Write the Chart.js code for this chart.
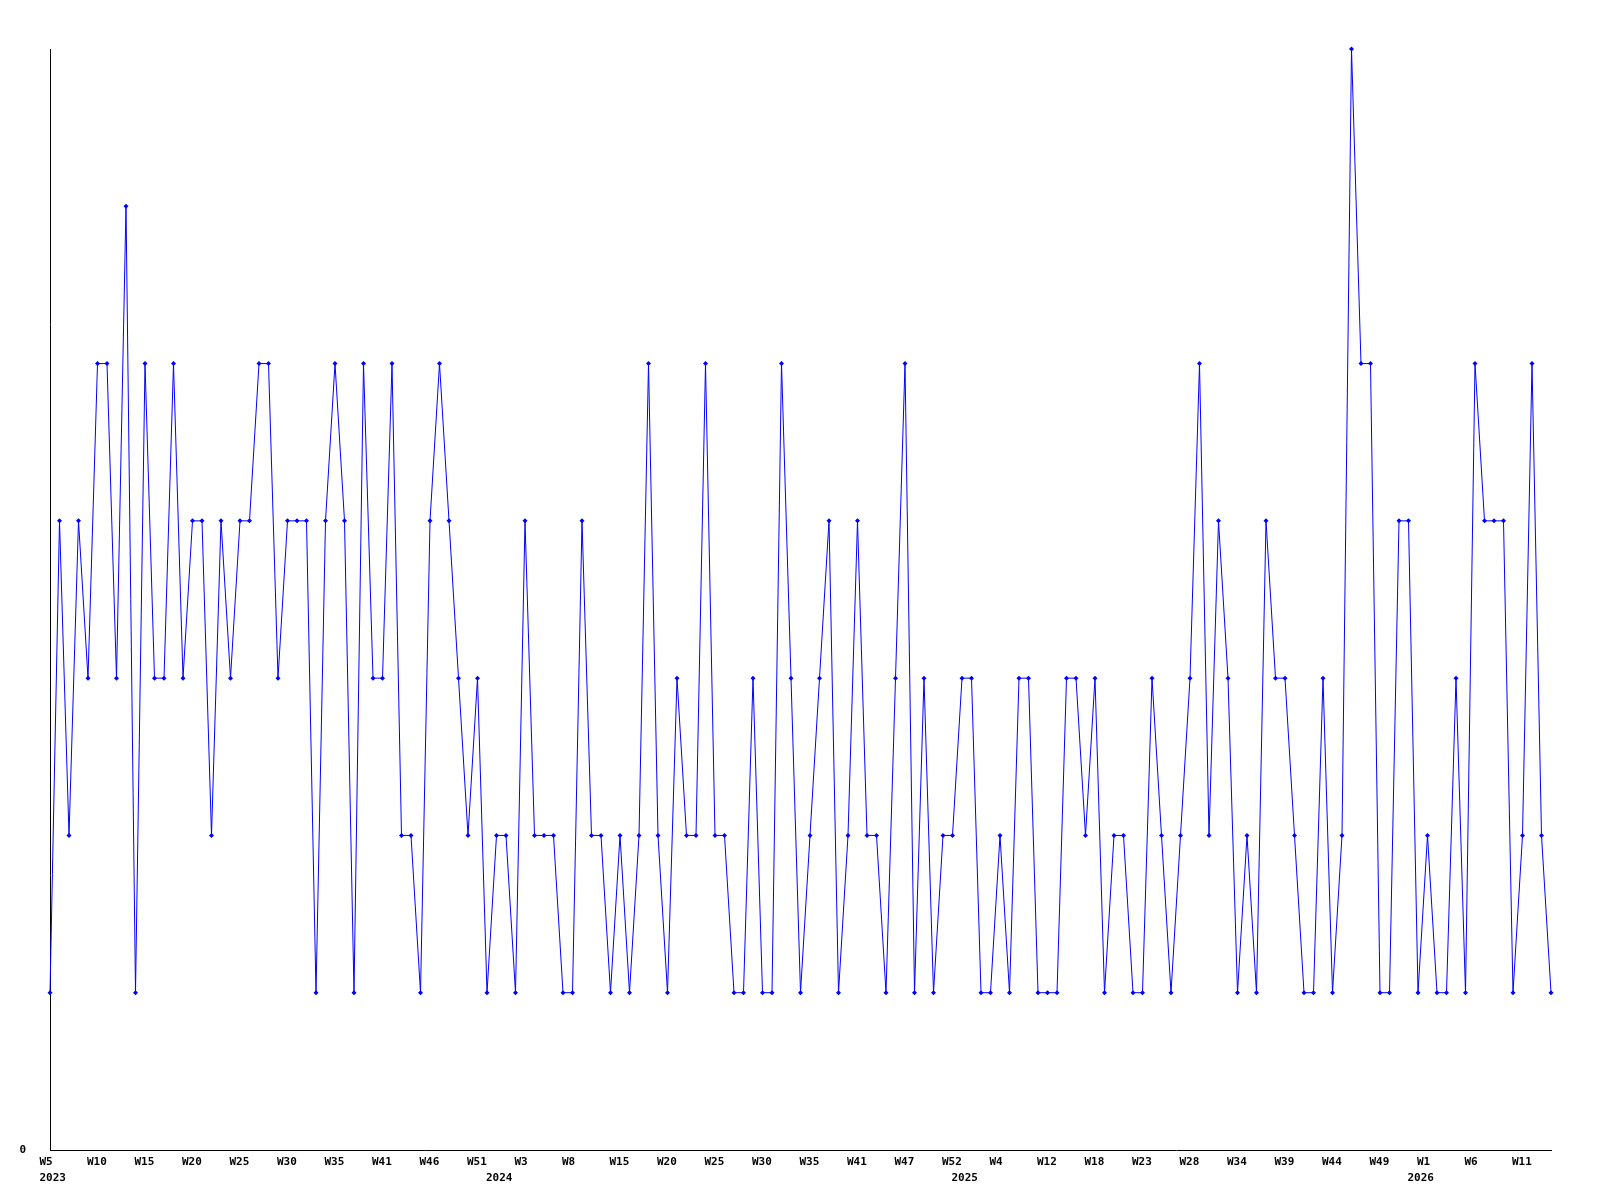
<!DOCTYPE html>
<html>
<head>
<meta charset="utf-8">
<script src="https://cdn.jsdelivr.net/npm/chart.js@4.4.1/dist/chart.umd.min.js"></script>
<style>
  html, body { margin: 0; padding: 0; background: #ffffff; }
  #wrap { width: 1600px; height: 1200px; }
</style>
</head>
<body>
<div id="wrap"><canvas id="c" width="1600" height="1200"></canvas></div>
<script>
// ---- data ----
const years = [
  2023,2023,2023,2023,2023,2023,2023,2023,2023,2023,2023,2023,2023,2023,2023,2023,2023,2023,2023,2023,
  2023,2023,2023,2023,2023,2023,2023,2023,2023,2023,2023,2023,2023,2023,2023,2023,2023,2023,2023,2023,
  2023,2023,2023,2023,2023,2023,2023,
  2024,2024,2024,2024,2024,2024,2024,2024,2024,2024,2024,2024,2024,2024,2024,2024,2024,2024,2024,2024,
  2024,2024,2024,2024,2024,2024,2024,2024,2024,2024,2024,2024,2024,2024,2024,2024,2024,2024,2024,2024,
  2024,2024,2024,2024,2024,2024,2024,2024,2024,
  2025,2025,2025,2025,2025,2025,2025,2025,2025,2025,2025,2025,2025,2025,2025,2025,2025,2025,2025,2025,
  2025,2025,2025,2025,2025,2025,2025,2025,2025,2025,2025,2025,2025,2025,2025,2025,2025,2025,2025,2025,
  2025,2025,2025,2025,2025,2025,2025,2025,
  2026,2026,2026,2026,2026,2026,2026,2026,2026,2026,2026,2026,2026,2026,2026
];
const weeks = [
  5,6,7,8,9,10,11,12,13,14,15,16,17,18,19,20,21,22,23,24,
  25,26,27,28,29,30,31,32,33,34,35,36,37,38,40,41,42,43,44,45,
  46,47,48,49,50,51,52,
  0,1,2,3,4,5,6,7,8,9,10,12,13,15,16,17,18,19,20,21,
  22,23,24,25,26,27,28,29,30,31,32,33,34,35,36,37,38,40,41,42,
  43,44,46,47,48,49,50,51,52,
  0,1,2,3,4,5,7,9,10,12,13,14,15,17,18,19,20,21,22,23,
  24,25,26,27,28,29,30,31,33,34,35,36,37,38,39,40,41,42,43,44,
  45,46,47,48,49,50,51,52,
  0,1,2,3,4,5,6,7,8,9,10,11,12,13,14
];
const values = [
  1,4,2,4,3,5,5,3,6,1,5,3,3,5,3,4,4,2,4,3,
  4,4,5,5,3,4,4,4,1,4,5,4,1,5,3,3,5,2,2,1,
  4,5,4,3,2,3,1,2,2,1,4,2,2,2,1,1,4,2,2,1,
  2,1,2,5,2,1,3,2,2,5,2,2,1,1,3,1,1,5,3,1,
  2,3,4,1,2,4,2,2,1,3,5,1,3,1,2,2,3,3,1,1,
  2,1,3,3,1,1,1,3,3,2,3,1,2,2,1,1,3,2,1,2,
  3,5,2,4,3,1,2,1,4,3,3,2,1,1,3,1,2,7,5,5,
  1,1,4,4,1,2,1,1,3,1,5,4,4,4,1,2,5,2,1
];
const yTickLabels = ['0'];
const categories = weeks.map((w, i) => years[i] + '-W' + w);

// ---- chart ----
const FONT = { family: '"DejaVu Sans Mono", monospace', size: 11, weight: 'bold', lineHeight: 1.45 };

new Chart(document.getElementById('c'), {
  type: 'line',
  data: {
    labels: categories,
    datasets: [{
      data: values,
      borderColor: '#0000ff',
      backgroundColor: '#0000ff',
      borderWidth: 1,
      tension: 0,
      pointStyle: 'rectRot',
      pointRadius: 2.5,
      pointBorderWidth: 0,
      pointBackgroundColor: '#0000ff',
      clip: false
    }]
  },
  options: {
    responsive: false,
    devicePixelRatio: 1,
    animation: false,
    layout: { padding: { top: 49, right: 49, left: 0, bottom: 0 } },
    plugins: { legend: { display: false }, tooltip: { enabled: false } },
    scales: {
      x: {
        type: 'category',
        offset: false,
        grid: { display: false, drawTicks: false },
        border: { display: true, color: '#000000', width: 1 },
        afterFit: (s) => { s.height = 50; },
        ticks: {
          autoSkip: false,
          maxRotation: 0,
          minRotation: 0,
          align: 'start',
          labelOffset: -10.5,
          padding: 4,
          color: '#000000',
          font: FONT,
          callback: function (val, idx) {
            const wk = idx % 5 === 0 ? 'W' + weeks[idx] : '';
            const yr = (idx === 0 || years[idx] !== years[idx - 1]) ? String(years[idx]) : '';
            if (!wk && !yr) return null;
            return [wk, yr];
          }
        }
      },
      y: {
        min: 0,
        max: 7,
        grid: { display: false, drawTicks: false },
        border: { display: true, color: '#000000', width: 1 },
        afterFit: (s) => { s.width = 50; },
        ticks: {
          stepSize: 1,
          padding: 24,
          color: '#000000',
          font: FONT,
          callback: (v) => (v === 0 ? yTickLabels[0] : null)
        }
      }
    }
  }
});
</script>
</body>
</html>
